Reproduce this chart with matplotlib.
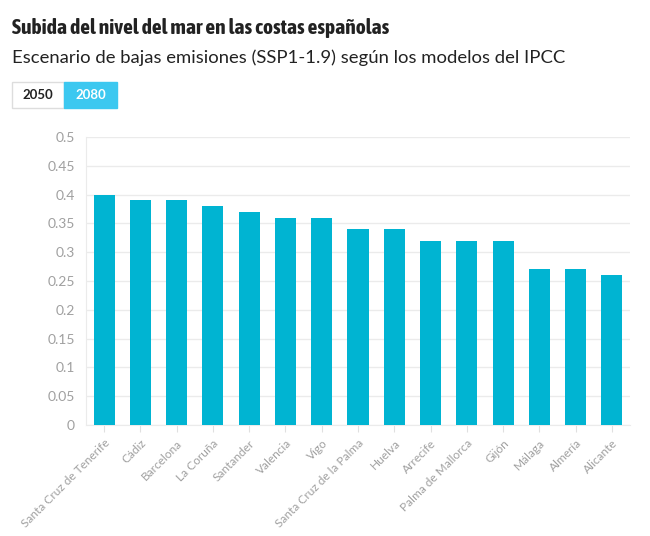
import matplotlib
matplotlib.use("Agg")
import matplotlib.pyplot as plt
from matplotlib.patches import Rectangle
from matplotlib import font_manager

cities = ["Santa Cruz de Tenerife", "Cádiz", "Barcelona", "La Coruña", "Santander",
          "Valencia", "Vigo", "Santa Cruz de la Palma", "Huelva", "Arrecife",
          "Palma de Mallorca", "Gijón", "Málaga", "Almería", "Alicante"]
values = [0.40, 0.39, 0.39, 0.38, 0.37, 0.36, 0.36, 0.34, 0.34, 0.32, 0.32, 0.32, 0.27, 0.27, 0.26]
yticks = [0, 0.05, 0.1, 0.15, 0.2, 0.25, 0.3, 0.35, 0.4, 0.45, 0.5]
ytick_labels = ["0", "0.05", "0.1", "0.15", "0.2", "0.25", "0.3", "0.35", "0.4", "0.45", "0.5"]
buttons = ["2050", "2080"]

plt.rcParams['font.family'] = ['Lato', 'DejaVu Sans']


def wnum(w):
    if isinstance(w, int):
        return w
    return font_manager.weight_dict.get(w, 400)


cands = []
for f in font_manager.fontManager.ttflist:
    cond = ("Condensed" in f.name or "Narrow" in f.name or "condensed" in str(f.stretch))
    if cond and f.style == "normal" and wnum(f.weight) >= 600:
        cands.append((abs(wnum(f.weight) - 700), f.name, f.weight))
cands.sort()
if cands:
    title_font, title_weight = cands[0][1], cands[0][2]
else:
    title_font, title_weight = "Lato", "bold"

W, H = 650, 536
fig = plt.figure(figsize=(W / 100, H / 100), dpi=100)
ax = fig.add_axes([86 / W, 1 - 425 / H, (630 - 86) / W, (425 - 137) / H])

x = list(range(len(cities)))
ax.bar(x, values, width=0.58, color="#00B4D2", zorder=3)
ax.set_xlim(-0.5, len(cities) - 0.5)
ax.set_ylim(0, 0.5)
ax.set_yticks(yticks)
ax.set_yticklabels(ytick_labels)
ax.yaxis.grid(True, color="#ebebeb", linewidth=1, zorder=0)
for s in ["top", "right"]:
    ax.spines[s].set_visible(False)
ax.spines["left"].set_color("#ebebeb")
ax.spines["bottom"].set_color("#ebebeb")
ax.tick_params(axis="y", length=0, pad=8, labelsize=10, labelcolor="#a0a0a0")
ax.tick_params(axis="x", length=5, color="#e0e0e0", pad=4, labelsize=8.6, labelcolor="#a0a0a0")
ax.set_xticks(x)
ax.set_xticklabels(cities, rotation=45, ha="right", rotation_mode="anchor")

renderer = fig.canvas.get_renderer()


def fit(t, target_px):
    w = t.get_window_extent(renderer).width
    t.set_fontsize(t.get_fontsize() * target_px / w)


t1 = fig.text(12 / W, 1 - 28 / H, "Subida del nivel del mar en las costas españolas",
              fontsize=15, fontweight=title_weight, color="#222222", va="center",
              family=[title_font, "DejaVu Sans"])
fit(t1, 376)
t2 = fig.text(12 / W, 1 - 58 / H, "Escenario de bajas emisiones (SSP1-1.9) según los modelos del IPCC",
              fontsize=13, color="#222222", va="center")
fit(t2, 551)

# buttons
b1 = Rectangle((12 / W, 1 - 108 / H), 52 / W, 26 / H, transform=fig.transFigure,
               facecolor="white", edgecolor="#dddddd", linewidth=1)
b2 = Rectangle((64 / W, 1 - 108 / H), 53 / W, 26 / H, transform=fig.transFigure,
               facecolor="#3CC8F0", edgecolor="#3CC8F0", linewidth=1)
fig.patches.extend([b1, b2])
fig.text(38 / W, 1 - 95 / H, buttons[0], fontsize=9.5, fontweight="bold", color="#222222",
         ha="center", va="center")
fig.text(90.5 / W, 1 - 95 / H, buttons[1], fontsize=9.5, fontweight="bold", color="white",
         ha="center", va="center")

fig.savefig("out.png", dpi=100, facecolor="white")
